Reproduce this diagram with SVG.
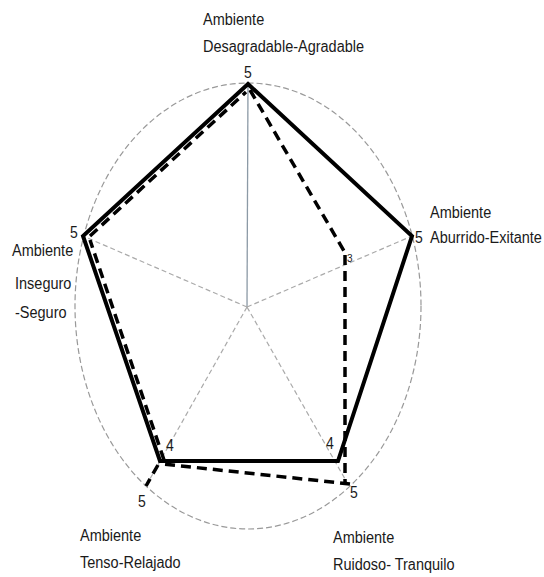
<svg xmlns="http://www.w3.org/2000/svg" width="544" height="577" viewBox="0 0 544 577">
<style>
.lbl{font-family:"Liberation Sans",Arial,sans-serif;font-size:14.5px;fill:#1a1a1a}
.val{font-family:"Liberation Sans",Arial,sans-serif;font-size:14px;fill:#1a1a1a}
.grid{fill:none;stroke:#999;stroke-width:1.2;stroke-dasharray:6,3}
.spoke{fill:none;stroke:#aaa;stroke-width:1.2;stroke-dasharray:5,3}
.solid{fill:none;stroke:#000;stroke-width:4;stroke-linejoin:miter}
.dash{fill:none;stroke:#000;stroke-width:3.5;stroke-dasharray:10,6}
</style>
<rect width="544" height="577" fill="#fff"/>
<g id="grid">
<ellipse class="grid" cx="248" cy="306" rx="173" ry="223"/>
<line x1="247" y1="307" x2="248" y2="83" stroke="#8c9aa6" stroke-width="1.3"/>
<line class="spoke" x1="247" y1="307" x2="412" y2="236"/>
<line class="spoke" x1="247" y1="307" x2="83" y2="236"/>
<line class="spoke" x1="247" y1="307" x2="349" y2="486"/>
<line class="spoke" x1="247" y1="307" x2="146" y2="486"/>
</g>
<g id="connectors">
<polygon class="solid" points="248,84 412,236 338,461 160,461 83,236"/>
<polyline class="dash" points="250,90 344,251"/>
<line class="dash" x1="345" y1="255" x2="345" y2="484"/>
<polyline class="dash" points="350,484 163,464"/>
<polyline class="dash" points="164,460 90,240"/>
<polyline class="dash" points="90,236 246,92"/>
<line class="dash" x1="158" y1="465" x2="146" y2="486" stroke-dasharray="5,4" stroke-width="3"/>
</g>
<g id="axis-top">
<text class="lbl" transform="translate(203,25) scale(1,1.16)">Ambiente</text>
<text class="lbl" transform="translate(203,52) scale(1,1.16)">Desagradable-Agradable</text>
<text class="val" transform="translate(244,78) scale(1,1.16)">5</text>
</g>
<g id="axis-right">
<text class="lbl" transform="translate(430,218) scale(1,1.16)">Ambiente</text>
<text class="val" transform="translate(415,243) scale(1,1.16)">5</text>
<text class="lbl" transform="translate(430,243) scale(1,1.16)">Aburrido-Exitante</text>
<text class="val" transform="translate(347,262)" style="font-size:10px">3</text>
</g>
<g id="axis-left">
<text class="val" transform="translate(70,238) scale(1,1.16)">5</text>
<text class="lbl" transform="translate(12,256) scale(1,1.16)">Ambiente</text>
<text class="lbl" transform="translate(15,289) scale(1,1.16)">Inseguro</text>
<text class="lbl" transform="translate(15,318) scale(1,1.16)">-Seguro</text>
</g>
<g id="axis-bottom-left">
<text class="val" transform="translate(166,451) scale(1,1.16)">4</text>
<text class="val" transform="translate(138,507) scale(1,1.16)">5</text>
<text class="lbl" transform="translate(80,541) scale(1,1.16)">Ambiente</text>
<text class="lbl" transform="translate(80,568) scale(1,1.16)">Tenso-Relajado</text>
</g>
<g id="axis-bottom-right">
<text class="val" transform="translate(326,449) scale(1,1.16)">4</text>
<text class="val" transform="translate(350,498) scale(1,1.16)">5</text>
<text class="lbl" transform="translate(333,543) scale(1,1.16)">Ambiente</text>
<text class="lbl" transform="translate(333,570) scale(1,1.16)">Ruidoso- Tranquilo</text>
</g>
</svg>
